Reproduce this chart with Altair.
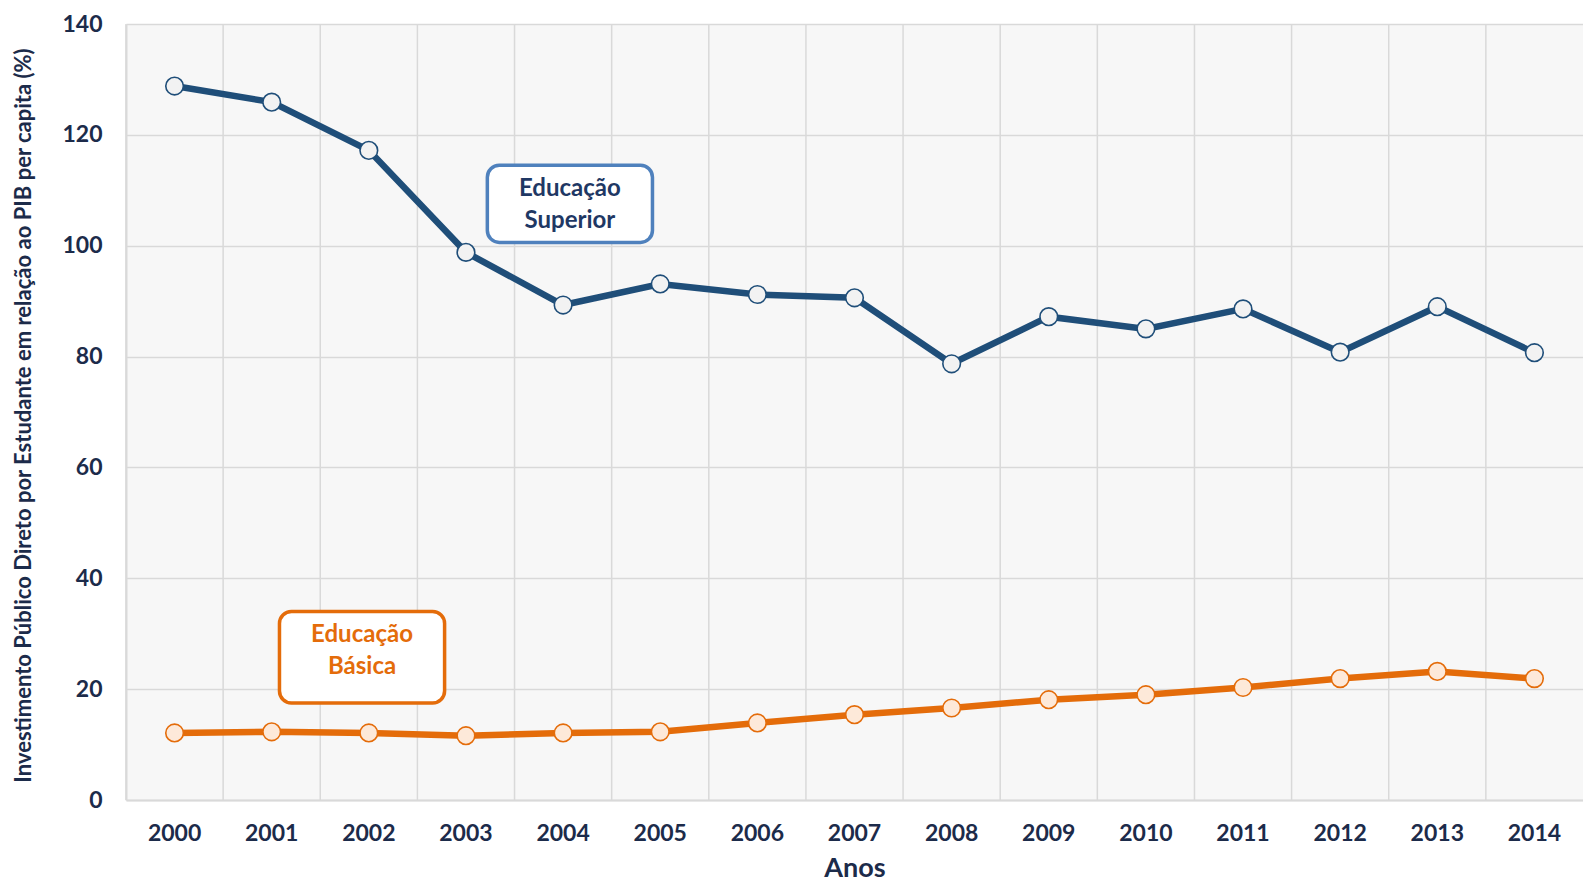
import altair as alt
import pandas as pd

# ---- data ----
years = list(range(2000, 2015))
superior = [128.8, 125.9, 117.2, 98.8, 89.3, 93.1, 91.2, 90.6, 78.7, 87.2, 85.0, 88.6, 80.8, 89.0, 80.7]
basica = [12.1, 12.3, 12.1, 11.6, 12.1, 12.3, 13.9, 15.4, 16.6, 18.1, 19.0, 20.3, 21.9, 23.2, 21.9]

series_values = [superior, basica]
line_colors = ["#1f4e79", "#e46c0a"]
marker_fills = ["#f2f2f2", "#fde9d9"]

# annotation boxes (in data units: years / percent)
label_text = ["Educação\nSuperior", "Educação\nBásica"]
label_x0 = [2003.22, 2001.08]
label_x1 = [2004.92, 2002.78]
label_y0 = [114.5, 34.0]
label_y1 = [100.6, 17.5]
label_ty = [110.3, 29.7]   # first text line
label_tx = [2004.07, 2001.93]
label_border = ["#4f81bd", "#e46c0a"]
label_color = ["#1f3864", "#e46c0a"]

y_ticks = [0, 20, 40, 60, 80, 100, 120, 140]

NAVY = "#1c2b4a"
GRID = "#d9d9d9"
FONT = "Lato"
W, H = 1457, 776

xscale = alt.Scale(type="band", paddingInner=0, paddingOuter=0)
yscale = alt.Scale(domain=[0, 140], nice=False)
yaxis = alt.Axis(
    values=y_ticks, title="Investimento Público Direto por Estudante em relação ao PIB per capita (%)",
    grid=True, gridColor=GRID, gridWidth=1.5, ticks=False,
    domainColor=GRID, domainWidth=2,
    labelFont=FONT, labelFontSize=23, labelFontWeight="bold", labelColor=NAVY, labelPadding=24,
    titleFont=FONT, titleFontSize=22, titleFontWeight="bold", titleColor=NAVY,
    titleX=-91, titleY=391,
)
xaxis = alt.Axis(
    title="Anos", labelAngle=0, grid=False, ticks=False,
    domainColor=GRID, domainWidth=2,
    labelFont=FONT, labelFontSize=23, labelFontWeight="bold", labelColor=NAVY, labelPadding=22,
    titleFont=FONT, titleFontSize=27, titleFontWeight="bold", titleColor=NAVY, titlePadding=10,
)

grid_df = pd.DataFrame({"year": years})
vgrid = alt.Chart(grid_df).mark_rule(color=GRID, strokeWidth=1.5).encode(
    x=alt.X("year:O", bandPosition=0, scale=xscale, axis=xaxis),
    y=alt.value(0),
    y2=alt.value(H),
)

layers = [vgrid]
for vals, lc, mf in zip(series_values, line_colors, marker_fills):
    df = pd.DataFrame({"year": years, "value": vals})
    base = alt.Chart(df).encode(
        x=alt.X("year:O", scale=xscale, axis=xaxis),
        y=alt.Y("value:Q", scale=yscale, axis=yaxis),
    )
    layers.append(base.mark_line(color=lc, strokeWidth=6.5))
    layers.append(base.mark_point(shape="circle", filled=True, fill=mf, stroke=lc,
                                  strokeWidth=1.6, size=310, opacity=1))

main = alt.layer(*layers)

ann_layers = []
ann_x = alt.Scale(domain=[1999.5, 2014.5], nice=False, zero=False)
for i in range(len(label_text)):
    adf = pd.DataFrame({"x0": [label_x0[i]], "x1": [label_x1[i]],
                        "y0": [label_y0[i]], "y1": [label_y1[i]],
                        "tx": [label_tx[i]], "ty": [label_ty[i]], "t": [label_text[i]]})
    box = alt.Chart(adf).mark_rect(fill="white", stroke=label_border[i], strokeWidth=3.5,
                                   cornerRadius=12).encode(
        x=alt.X("x0:Q", scale=ann_x, axis=None), x2="x1:Q",
        y=alt.Y("y0:Q", scale=yscale, axis=yaxis), y2="y1:Q",
    )
    txt = alt.Chart(adf).mark_text(font=FONT, fontSize=24, fontWeight="bold", color=label_color[i],
                                   lineBreak="\n", lineHeight=32, align="center",
                                   baseline="middle").encode(
        x=alt.X("tx:Q", scale=ann_x, axis=None),
        y=alt.Y("ty:Q", scale=yscale, axis=yaxis),
        text="t:N",
    )
    ann_layers += [box, txt]

chart = alt.layer(main, *ann_layers).resolve_scale(x="independent").properties(
    width=W, height=H,
    padding={"left": 118, "top": 16, "right": 0, "bottom": 82},
    autosize=alt.AutoSizeParams(type="none"),
    background="white",
).configure_view(fill="#f7f7f7", stroke=None)

chart.save("out.html", embed_options={"renderer": "svg", "actions": False})
